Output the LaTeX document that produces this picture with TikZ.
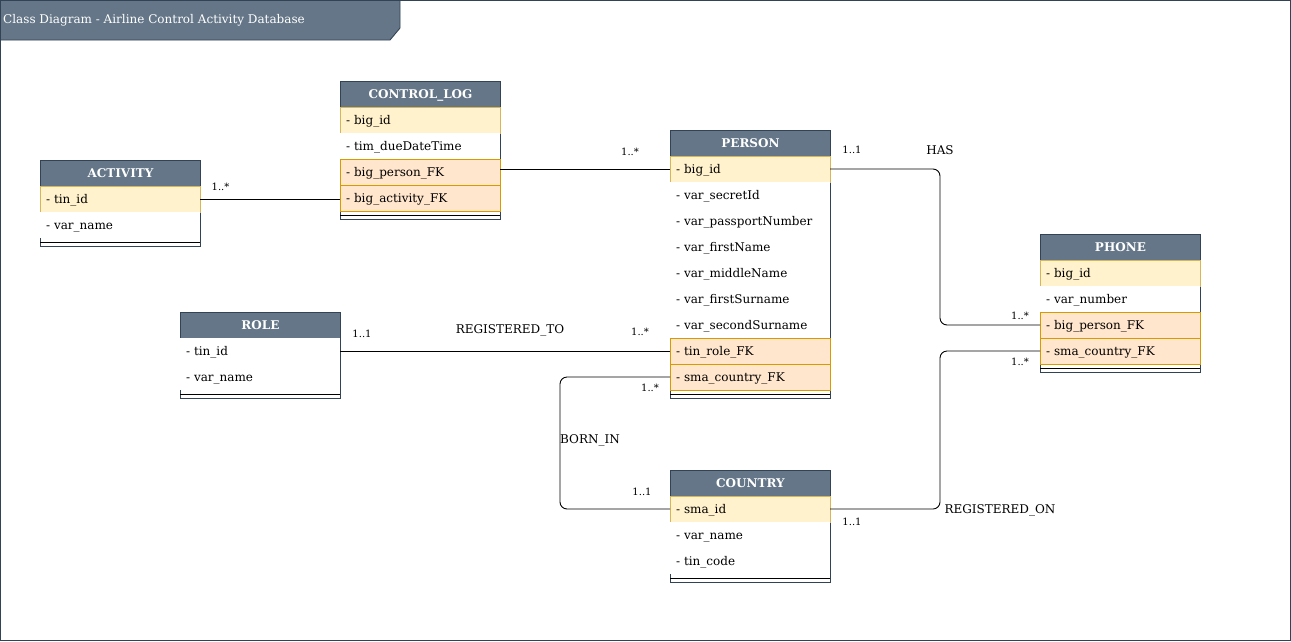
\documentclass[tikz,border=0pt]{standalone}
\usepackage{fontspec}
\setmainfont{DejaVu Serif}
\definecolor{hdfill}{HTML}{647687}
\definecolor{hdline}{HTML}{314354}
\definecolor{pkfill}{HTML}{FFF2CC}
\definecolor{pkline}{HTML}{D6B656}
\definecolor{fkfill}{HTML}{FFE6CC}
\definecolor{fkline}{HTML}{D79B00}
\tikzset{
  tblbox/.style={draw=hdline, fill=white, line width=0.9pt},
  head/.style={draw=hdline, fill=hdfill, text=white, font=\fontsize{12}{14}\selectfont\bfseries,
    minimum width=160pt, minimum height=26pt, inner sep=0pt, anchor=north west, line width=0.9pt,
    text height=10pt, text depth=1pt},
  row/.style={minimum width=160pt, minimum height=26pt, inner xsep=6pt, inner ysep=0pt,
    text width=148pt, align=left, font=\fontsize{12}{14}\selectfont, text height=10.5pt, text depth=1.5pt,
    anchor=north west, outer sep=0pt, line width=0.9pt},
  wr/.style={fill=white},
  pk/.style={fill=pkfill, draw=pkline},
  fk/.style={fill=fkfill, draw=fkline},
  sepline/.style={draw=black, line width=0.9pt},
  conn/.style={draw=black, line width=0.9pt, rounded corners=7pt},
  mult/.style={font=\fontsize{10}{12}\selectfont, inner sep=0pt},
  rel/.style={font=\fontsize{12}{14}\selectfont, inner sep=0pt},
}
\newcommand{\umltab}[6]{%
  \pgfmathsetmacro\tbot{#3+26+26*#6+8}
  \draw[tblbox] (#2,#3) rectangle (#2+160,\tbot);
  \node[head] (#1) at (#2,#3) {#4};
  \foreach \s/\t [count=\i] in {#5} {\node[row,\s] (#1-\i) at (#2,#3+26*\i) {\t};}
  \draw[sepline] (#2,\tbot-4) -- (#2+160,\tbot-4);
}
\begin{document}
\begin{tikzpicture}[x=1pt,y=-1pt]
\useasboundingbox (0,0) rectangle (1291,641);
\fill[white] (0,0) rectangle (1291,641);
\draw[hdline, line width=0.9pt] (0.5,0.5) rectangle (1290.5,640.5);
\draw[fill=hdfill, draw=hdline, line width=0.9pt] (0.5,0.5) -- (400,0.5) -- (400,28) -- (390,40) -- (0.5,40) -- cycle;
\node[anchor=west, inner sep=0pt, text=white, font=\fontsize{12}{14}\selectfont] (title) at (3,20.5) {Class Diagram - Airline Control Activity Database};

\umltab{log}{340}{81}{CONTROL\_LOG}{pk/{- big\_id}, wr/{- tim\_dueDateTime}, fk/{- big\_person\_FK}, fk/{- big\_activity\_FK}}{4}
\umltab{act}{40}{160}{ACTIVITY}{pk/{- tin\_id}, wr/{- var\_name}}{2}
\umltab{role}{180}{312}{ROLE}{wr/{- tin\_id}, wr/{- var\_name}}{2}
\umltab{per}{670}{130}{PERSON}{pk/{- big\_id}, wr/{- var\_secretId}, wr/{- var\_passportNumber}, wr/{- var\_firstName}, wr/{- var\_middleName}, wr/{- var\_firstSurname}, wr/{- var\_secondSurname}, fk/{- tin\_role\_FK}, fk/{- sma\_country\_FK}}{9}
\umltab{ph}{1040}{234}{PHONE}{pk/{- big\_id}, wr/{- var\_number}, fk/{- big\_person\_FK}, fk/{- sma\_country\_FK}}{4}
\umltab{cty}{670}{470}{COUNTRY}{pk/{- sma\_id}, wr/{- var\_name}, wr/{- tin\_code}}{3}

% connectors
\draw[conn] (act-1.east) -- (act-1.east -| log-4.west);
\draw[conn] (log-3.east |- per-1.west) -- (per-1.west);
\draw[conn] (per-1.east) -| ([xshift=-100pt]ph-3.west) -- (ph-3.west);
\draw[conn] (role-1.east) -- (per-8.west);
\draw[conn] (per-9.west) -| ([xshift=-110pt]cty-1.west) -- (cty-1.west);
\draw[conn] (cty-1.east) -| ([xshift=-100pt]ph-4.west) -- (ph-4.west);

% labels
\node[mult] (m1) at (220.5,187) {1..*};
\node[mult] (m2) at (630,152) {1..*};
\node[mult] (m3) at (852,150) {1..1};
\node[rel] (has) at (940,150.5) {HAS};
\node[mult] (m4) at (1020,316) {1..*};
\node[mult] (m5) at (362,334) {1..1};
\node[rel] (regto) at (510,330.5) {REGISTERED\_TO};
\node[mult] (m6) at (640,332) {1..*};
\node[mult] (m7) at (650,388) {1..*};
\node[rel] (bornin) at (590,440.5) {BORN\_IN};
\node[mult] (m8) at (642,492) {1..1};
\node[mult] (m9) at (852,522) {1..1};
\node[rel] (regon) at (1000,510.5) {REGISTERED\_ON};
\node[mult] (m10) at (1020,362) {1..*};
\end{tikzpicture}
\end{document}
